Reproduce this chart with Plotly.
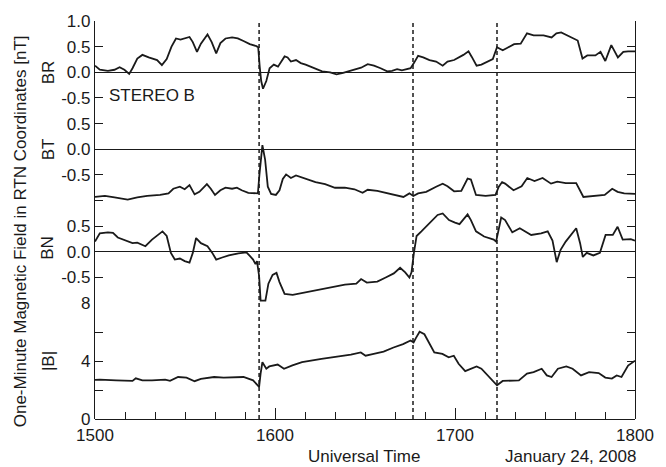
import plotly.graph_objects as go

# STEREO B one-minute magnetic field, RTN coordinates, 24 January 2008.
# Time is given in minutes after 15:00 UT.

br_t = [0, 1.6, 4.3, 6.5, 8.2, 9.8, 11.4, 12.5, 14.1, 15.8, 17.9, 20.7, 22.3, 23.9,
        25.5, 27.0, 28.5, 29.9, 31.5, 32.6, 34.0, 35.3, 37.5, 38.9, 40.4, 41.8, 43.5,
        45.7, 47.6, 49.5, 51.6, 53.8, 54.4, 54.9, 55.4, 56.0, 57.1, 58.2, 59.6, 61.0,
        63.2, 64.2, 65.3, 67.0, 68.6, 70.2, 71.8, 73.5, 75.7, 78.4, 80.5, 82.7, 84.9,
        87.1, 88.7, 90.9, 93.0, 95.2, 97.4, 99.0, 100.7, 102.3, 103.9, 105.2, 106.3,
        107.7, 109.4, 111.5, 113.7, 115.9, 117.5, 119.7, 122.8, 124.5, 125.6, 127.2,
        128.8, 131.0, 132.6, 134.0, 135.9, 137.5, 139.7, 141.9, 144.0, 146.2, 149.5,
        152.2, 153.8, 155.4, 158.2, 160.9, 162.5, 164.1, 166.8, 168.5, 170.1, 172.1,
        174.3, 176.1, 177.7, 180.0]
br = [0.13, 0.05, 0.03, 0.05, 0.10, 0.05, -0.03, 0.08, 0.27, 0.34, 0.29, 0.24, 0.14, 0.26,
      0.50, 0.66, 0.64, 0.66, 0.69, 0.59, 0.40, 0.56, 0.74, 0.59, 0.37, 0.57, 0.66,
      0.68, 0.66, 0.61, 0.55, 0.51, 0.49, 0.11, -0.17, -0.32, -0.17, 0.08, 0.15, 0.11,
      0.31, 0.29, 0.21, 0.24, 0.18, 0.15, 0.11, 0.06, 0.02, 0.00, -0.04, -0.01, 0.03,
      0.06, 0.09, 0.16, 0.13, 0.08, 0.02, 0.03, 0.06, 0.04, 0.06, 0.08, 0.18,
      0.32, 0.29, 0.24, 0.21, 0.13, 0.21, 0.24, 0.34, 0.41, 0.30, 0.13,
      0.15, 0.22, 0.26, 0.49, 0.43, 0.48, 0.55, 0.56, 0.76, 0.72, 0.72,
      0.68, 0.76, 0.78, 0.70, 0.62, 0.27, 0.33, 0.33, 0.40, 0.22, 0.53,
      0.29, 0.40, 0.41, 0.41]

bt_t = [0, 3.3, 6.5, 10.9, 14.1, 17.4, 21.7, 24.5, 26.1, 28.3, 29.9, 31.5, 33.2, 34.8,
        37.3, 38.6, 40.0, 41.8, 43.5, 45.7, 47.3, 48.9, 51.1, 54.3, 54.8, 55.8, 56.7,
        57.6, 58.7, 60.3, 61.5, 62.6, 63.7, 65.3, 67.0, 70.2, 73.5, 76.7, 80.0, 83.3,
        86.5, 89.2, 90.9, 94.1, 97.4, 100.7, 102.8, 104.8, 106.1, 107.7, 110.4, 113.7,
        115.9, 117.5, 119.7, 122.1, 124.2, 125.3, 127.0, 130.2, 133.5, 134.6, 135.7,
        136.7, 139.5, 142.2, 144.1, 146.5, 149.2, 152.0, 154.1, 156.9, 160.4, 162.8,
        166.1, 169.9, 172.4, 174.2, 176.4, 180.0]
bt = [-0.93, -0.91, -0.94, -0.98, -0.94, -0.91, -0.89, -0.86, -0.77, -0.73, -0.78, -0.70,
      -0.88, -0.83, -0.68, -0.77, -0.89, -0.80, -0.75, -0.77, -0.75, -0.80, -0.85, -0.86,
      -0.50, 0.08, -0.20, -0.73, -0.87, -0.89, -0.80, -0.58, -0.49, -0.56, -0.51, -0.57,
      -0.64, -0.68, -0.75, -0.75, -0.78, -0.85, -0.79, -0.81, -0.86, -0.91, -0.93, -0.86,
      -0.91, -0.86, -0.83, -0.73, -0.67, -0.72, -0.82, -0.81, -0.57, -0.59, -0.89, -0.91,
      -0.89, -0.73, -0.64, -0.67, -0.80, -0.72, -0.56, -0.62, -0.56, -0.67, -0.63, -0.66,
      -0.66, -0.93, -0.91, -0.89, -0.77, -0.83, -0.86, -0.87]

bn_t = [0, 1.6, 4.3, 6.0, 7.6, 9.8, 12.5, 14.1, 16.8, 19.0, 20.7, 22.5, 23.9, 25.3, 26.6,
        28.3, 29.9, 31.5, 32.6, 33.7, 35.3, 37.5, 39.1, 40.4, 42.4, 44.6, 47.8, 50.5,
        51.6, 52.7, 53.5, 54.0, 54.7, 55.2, 56.8, 57.8, 59.2, 60.5, 61.5, 63.2, 65.9,
        70.2, 74.6, 78.9, 83.3, 87.1, 88.7, 90.6, 94.1, 96.9, 99.6, 101.7, 103.4, 104.8,
        105.5, 106.3, 107.2, 108.8, 111.5, 114.2, 115.9, 118.0, 120.0, 121.5, 124.2,
        125.3, 127.0, 129.7, 132.9, 133.7, 135.4, 136.7, 139.1, 141.6, 145.4, 148.7,
        150.9, 152.5, 153.9, 155.2, 156.9, 160.4, 161.7, 162.6, 163.9, 166.1, 168.3,
        170.2, 172.6, 174.2, 175.9, 178.6, 180.0]
bn = [0.20, 0.36, 0.38, 0.37, 0.28, 0.23, 0.17, 0.18, 0.11, 0.24, 0.32, 0.40, 0.31, -0.02,
      -0.15, -0.13, -0.18, -0.21, -0.02, 0.27, 0.17, 0.11, -0.02, -0.15, -0.11, -0.07,
      -0.03, -0.01, -0.08, -0.15, -0.24, -0.18, -0.47, -0.95, -0.95, -0.62, -0.45, -0.41,
      -0.59, -0.82, -0.84, -0.79, -0.74, -0.69, -0.64, -0.62, -0.53, -0.60, -0.58, -0.50,
      -0.42, -0.31, -0.40, -0.50, -0.40, -0.02, 0.31, 0.40, 0.56, 0.72, 0.75, 0.62, 0.57,
      0.54, 0.73, 0.62, 0.40, 0.30, 0.24, 0.20, 0.67, 0.62, 0.38, 0.46, 0.33, 0.36, 0.40,
      0.22, -0.20, 0.04, 0.20, 0.46, 0.17, -0.10, -0.02, -0.07, -0.02, 0.33, 0.33, 0.49,
      0.24, 0.25, 0.22]

bmag_t = [0, 1.6, 7.1, 12.5, 13.6, 15.8, 19.0, 23.4, 25.0, 27.7, 30.5, 33.2, 35.3, 39.7,
          42.9, 46.2, 49.5, 52.7, 54.7, 55.2, 55.8, 57.1, 58.1, 60.9, 63.0, 65.8, 69.0,
          75.5, 79.9, 85.3, 88.6, 90.2, 92.9, 96.2, 99.5, 102.7, 105.2, 106.2, 107.0,
          108.2, 109.8, 111.4, 113.1, 115.8, 117.9, 119.6, 121.2, 123.4, 125.5, 127.2,
          128.8, 131.0, 134.0, 135.9, 138.6, 141.3, 144.0, 146.2, 148.9, 150.6, 152.2,
          154.3, 157.1, 159.2, 162.0, 164.7, 167.9, 170.1, 172.3, 173.9, 175.5, 177.7,
          180.0]
bmag = [2.70, 2.72, 2.67, 2.63, 2.81, 2.67, 2.67, 2.72, 2.63, 2.90, 2.86, 2.61, 2.77, 2.90,
        2.86, 2.90, 2.90, 2.67, 2.22, 3.13, 3.92, 3.47, 3.63, 3.76, 3.47, 3.70, 3.92,
        4.15, 4.26, 4.44, 4.60, 4.37, 4.49, 4.65, 4.94, 5.17, 5.42, 5.28, 5.60,
        6.03, 5.85, 5.28, 4.60, 4.49, 4.26, 4.37, 3.81, 3.31, 3.47, 3.63,
        3.47, 3.01, 2.33, 2.63, 2.67, 2.67, 3.13, 3.24, 3.47, 3.01, 2.90,
        3.47, 3.63, 3.47, 3.01, 3.24, 3.17, 2.86, 2.79, 3.01, 2.90, 3.69,
        4.03]

# Discontinuity times (minutes after 15:00 UT)
event_t = [54.7, 106.0, 134.0]

hour_ticks = [0, 60, 120, 180]
hour_labels = ["1500", "1600", "1700", "1800"]

INK = "#1a1a1a"
FONT = dict(family="Liberation Sans, Arial, Helvetica, sans-serif", size=17, color=INK)

# Page geometry (pixels)
W, H = 666, 467
M_L, M_R, M_T, M_B = 95, 19, 14, 48
PLOT_W = W - M_L - M_R
PLOT_H = H - M_T - M_B
PX_PER_NT = 52.2        # vector components share one scale


def paper_x(px):
    return (px - M_L) / PLOT_W


def paper_y(px):
    return (H - M_B - px) / PLOT_H


# Panel value ranges, top to bottom
comp_ranges = [(-0.75, 1.0), (-1.15, 0.75), (-1.0, 0.85)]
domains = []
top = 1.0
for lo, hi in comp_ranges:
    h = (hi - lo) * PX_PER_NT / PLOT_H
    domains.append([top - h, top])
    top -= h
bmag_domain = [0.0, top]

fig = go.Figure()
series = [(br_t, br, "y"), (bt_t, bt, "y2"), (bn_t, bn, "y3"), (bmag_t, bmag, "y4")]
for t, v, ax in series:
    fig.add_trace(go.Scatter(x=t, y=v, xaxis="x", yaxis=ax, mode="lines",
                             line=dict(color=INK, width=1.8), hoverinfo="skip",
                             showlegend=False))

ycommon = dict(anchor="x", showline=True, linecolor=INK, linewidth=1.3, mirror="ticks",
               ticks="inside", ticklen=8, tickwidth=1.3, tickcolor=INK, showgrid=False,
               zeroline=True, zerolinecolor=INK, zerolinewidth=1.3, tickfont=FONT,
               tickmode="array")

comp_ticks = [
    ([1.0, 0.5, 0.0, -0.5], ["1.0", "0.5", "0.0", "-0.5"]),
    ([0.5, 0.0, -0.5, -1.0], ["0.5", "0.0", "-0.5", ""]),
    ([0.5, 0.0, -0.5], ["0.5", "0.0", "-0.5"]),
]
names = ["yaxis", "yaxis2", "yaxis3"]
for name, (lo, hi), dom, (tv, tt) in zip(names, comp_ranges, domains, comp_ticks):
    fig.layout[name] = dict(ycommon, range=[lo, hi + 0.001], domain=dom,
                            tickvals=tv, ticktext=tt)
fig.layout["yaxis4"] = dict(ycommon, range=[0, 8.001], domain=bmag_domain,
                            tickvals=[0, 2, 4, 6, 8], ticktext=["0", "", "4", "", "8"],
                            zeroline=False)

xcommon = dict(range=[0, 180], domain=[0, 1], showline=True, linecolor=INK, linewidth=1.3,
               ticks="inside", ticklen=11, tickwidth=1.3, tickcolor=INK, showgrid=False,
               zeroline=False, tickmode="array", tickvals=hour_ticks, ticktext=hour_labels,
               tickfont=FONT,
               minor=dict(tickmode="linear", tick0=0, dtick=10, ticks="inside",
                          ticklen=7, tickwidth=1.3, tickcolor=INK, showgrid=False))
fig.layout["xaxis"] = dict(xcommon, anchor="free", position=0)
fig.layout["xaxis2"] = dict(xcommon, anchor="free", position=1, overlaying="x",
                            side="top", showticklabels=False)

for t in event_t:
    fig.add_shape(type="line", xref="x", yref="paper", x0=t, x1=t, y0=0, y1=1,
                  line=dict(color=INK, width=1.5, dash="4px,3px"))

labels = [("BR", "y", 0.0), ("BT", "y2", 0.0), ("BN", "y3", 0.08), ("|B|", "y4", 4.0)]
for txt, yr, yv in labels:
    fig.add_annotation(text=txt, xref="paper", x=0, xshift=-47, yref=yr, y=yv,
                       textangle=-90, showarrow=False, font=FONT,
                       xanchor="center", yanchor="middle")

fig.add_annotation(text="One-Minute Magnetic Field in RTN Coordinates [nT]",
                   xref="paper", x=0, xshift=-75, yref="paper", y=paper_y(228),
                   textangle=-90, showarrow=False, font=FONT,
                   xanchor="center", yanchor="middle")
fig.add_annotation(text="STEREO B", xref="paper", x=0, xshift=12, yref="y", y=-0.45,
                   showarrow=False, font=FONT, xanchor="left", yanchor="middle")
fig.add_annotation(text="Universal Time", xref="paper", x=paper_x(370),
                   yref="paper", y=paper_y(457), showarrow=False, font=FONT,
                   xanchor="center", yanchor="middle")
fig.add_annotation(text="January 24, 2008", xref="paper", x=paper_x(650),
                   yref="paper", y=paper_y(457), showarrow=False, font=FONT,
                   xanchor="right", yanchor="middle")

fig.update_layout(width=W, height=H, margin=dict(l=M_L, r=M_R, t=M_T, b=M_B),
                  paper_bgcolor="white", plot_bgcolor="white", font=FONT,
                  showlegend=False)

fig.write_html("out.html")
